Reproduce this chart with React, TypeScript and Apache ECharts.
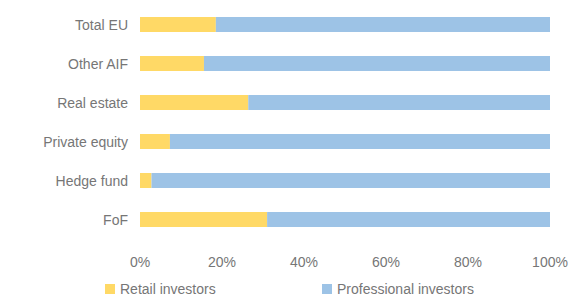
import React, { useEffect, useRef } from "react";
import * as echarts from "echarts";

const categories = ["FoF", "Hedge fund", "Private equity", "Real estate", "Other AIF", "Total EU"];
const retailInvestors = [31.0, 2.8, 7.3, 26.4, 15.6, 18.5];
const professionalInvestors = [69.0, 97.2, 92.7, 73.6, 84.4, 81.5];
const xTicks = [0, 20, 40, 60, 80, 100];

const TEXT = "#767676";
const FONT = "Liberation Sans, Arial, sans-serif";

export default function App() {
  const ref = useRef<HTMLDivElement>(null);
  useEffect(() => {
    if (!ref.current) return;
    const chart = echarts.init(ref.current, undefined, { renderer: "svg" });
    chart.setOption({
      animation: false,
      textStyle: { fontFamily: FONT },
      grid: { left: 140, right: 27, top: 5, bottom: 58, containLabel: false },
      legend: [
        {
          data: ["Retail investors"],
          left: 105,
          top: 282,
          padding: 0,
          icon: "rect",
          itemWidth: 10,
          itemHeight: 10,
          textStyle: { color: TEXT, fontSize: 14, fontFamily: FONT },
        },
        {
          data: ["Professional investors"],
          left: 322,
          top: 282,
          padding: 0,
          icon: "rect",
          itemWidth: 10,
          itemHeight: 10,
          textStyle: { color: TEXT, fontSize: 14, fontFamily: FONT },
        },
      ],
      xAxis: {
        type: "value",
        min: xTicks[0],
        max: xTicks[xTicks.length - 1],
        interval: 20,
        axisLine: { show: false },
        axisTick: { show: false },
        splitLine: { show: false },
        axisLabel: {
          color: TEXT,
          fontSize: 14,
          margin: 16,
          formatter: (v: number) => `${v}%`,
        },
      },
      yAxis: {
        type: "category",
        data: categories,
        axisLine: { show: false },
        axisTick: { show: false },
        axisLabel: { color: TEXT, fontSize: 14, margin: 12 },
      },
      series: [
        {
          name: "Retail investors",
          type: "bar",
          stack: "total",
          data: retailInvestors,
          barWidth: 15,
          itemStyle: { color: "#FFD966" },
        },
        {
          name: "Professional investors",
          type: "bar",
          stack: "total",
          data: professionalInvestors,
          barWidth: 15,
          itemStyle: { color: "#9DC3E6" },
        },
      ],
    });
    return () => chart.dispose();
  }, []);
  return <div ref={ref} style={{ width: 577, height: 297, position: "absolute", left: 0, top: 0 }} />;
}
